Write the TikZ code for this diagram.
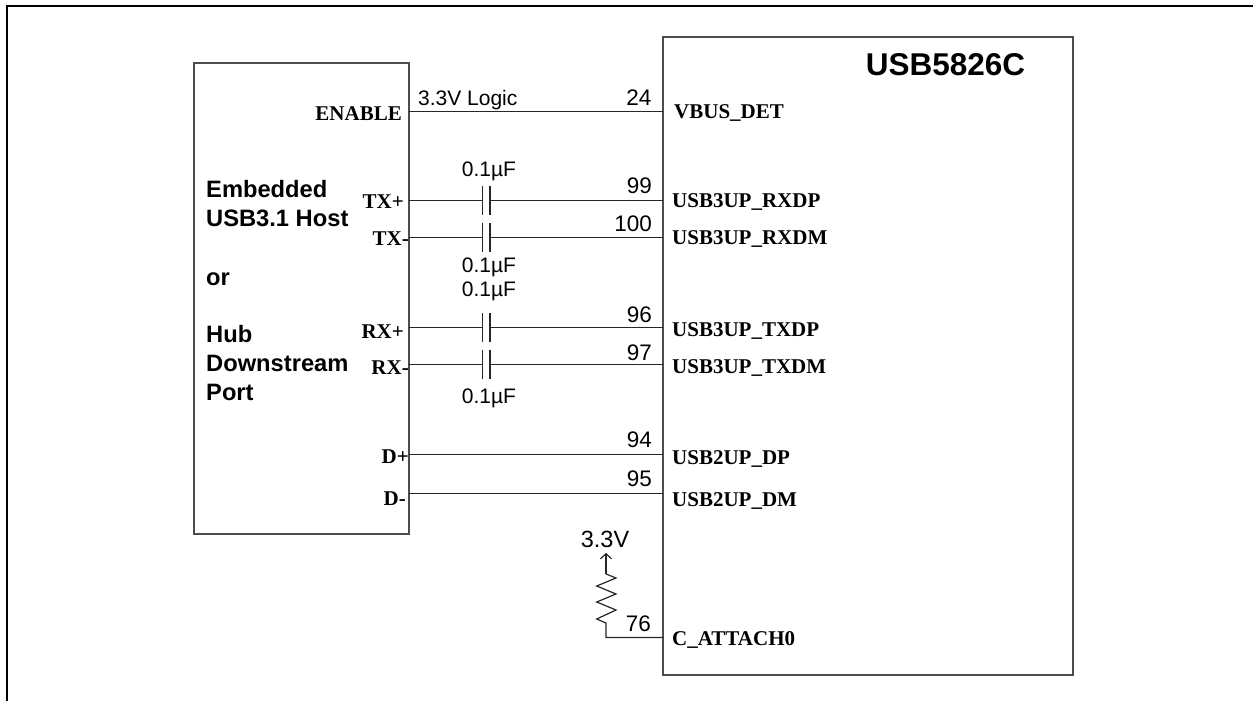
\documentclass[tikz,border=0pt]{standalone}
\usepackage{fontspec}
\setmainfont{Liberation Sans}
\newfontfamily\pinfont{Liberation Serif}
\usetikzlibrary{positioning,arrows.meta}
\tikzset{
  block/.style={draw=black!70,line width=1.4pt,inner sep=0pt},
  wire/.style={draw=black!85,line width=1.2pt},
  plate/.style={draw=black!85,line width=1.2pt},
  sansnote/.style={font=\fontsize{21}{23}\selectfont,inner sep=0pt,anchor=base},
  numlabel/.style={font=\fontsize{22.5}{24}\selectfont,inner sep=0pt,anchor=base east},
  hostlabel/.style={font=\fontsize{23.7}{25}\selectfont\bfseries,inner sep=0pt,anchor=base west},
  pinlabel/.style={font=\fontsize{21}{23}\selectfont\pinfont\bfseries,inner sep=0pt,anchor=base east},
  hublabel/.style={font=\fontsize{21}{23}\selectfont\pinfont\bfseries,inner sep=0pt,anchor=base west},
}
\begin{document}
\begin{tikzpicture}[x=1pt,y=-1pt]
        \useasboundingbox (0,0) rectangle (1253,701);
        \draw[black,line width=2.5pt] (7,701)--(7,6)--(1253,6);

        \node[block,minimum width=215pt,minimum height=471pt] (host) at (301.5,298.5) {};
        \node[block,minimum width=410pt,minimum height=638pt] (hub) at (868,356) {};
        \node[font=\fontsize{31.5}{33}\selectfont\bfseries,inner sep=0pt,anchor=base] (title) at (945.5,75) {USB5826C};

        \node[hostlabel] (h1) at (206,197) {Embedded};
        \node[hostlabel] (h2) at (206,226.7) {USB3.1 Host};
        \node[hostlabel] (h3) at (206,285) {or};
        \node[hostlabel] (h4) at (206,342) {Hub};
        \node[hostlabel] (h5) at (206,371) {Downstream};
        \node[hostlabel] (h6) at (206,400) {Port};

        % wires, left block to right block
        \coordinate (enL) at (409,111.5);
        \coordinate (enR) at (663,111.5);
        \coordinate (dpL) at (409,454.5);
        \coordinate (dpR) at (663,454.5);
        \coordinate (dmL) at (409,493.5);
        \coordinate (dmR) at (663,493.5);
        \draw[wire] (enL)--(enR);
        \draw[wire] (dpL)--(dpR);
        \draw[wire] (dmL)--(dmR);

        % ac coupled pairs
        \foreach \net/\ypos in {txp/200.5,txm/237.5,rxp/327.5,rxm/364.5}{
          \coordinate (\net L) at (409,\ypos);
          \coordinate (\net A) at (482.5,\ypos);
          \coordinate (\net B) at (490,\ypos);
          \coordinate (\net R) at (663,\ypos);
          \draw[wire] (\net L)--(\net A);
          \draw[wire] (\net B)--(\net R);
          \draw[plate] ([yshift=14.5pt]\net A)--([yshift=-14.5pt]\net A);
          \draw[plate] ([yshift=14.5pt]\net B)--([yshift=-14.5pt]\net B);
        }

        \node[sansnote,anchor=base west] (logic) at (418,105) {3.3V Logic};
        \node[sansnote] (c1) at (489,176) {0.1µF};
        \node[sansnote] (c2) at (489,272.7) {0.1µF};
        \node[sansnote] (c3) at (489,296.7) {0.1µF};
        \node[sansnote] (c4) at (489,403.3) {0.1µF};

        \node[numlabel] (n24) at (651.5,106) {24};
        \node[numlabel] (n99) at (652,193.3) {99};
        \node[numlabel] (n100) at (652,231.7) {100};
        \node[numlabel] (n96) at (652,322.7) {96};
        \node[numlabel] (n97) at (652,360) {97};
        \node[numlabel] (n94) at (652,447) {94};
        \node[numlabel] (n95) at (652,486.5) {95};
        \node[numlabel] (n76) at (651,631.7) {76};

        \node[pinlabel] (en) at (402,120.7) {ENABLE};
        \node[pinlabel] (txp) at (404,208) {TX+};
        \node[pinlabel] (txm) at (409,245) {TX-};
        \node[pinlabel] (rxp) at (404,338) {RX+};
        \node[pinlabel] (rxm) at (409,374) {RX-};
        \node[pinlabel] (dp) at (409,463) {D+};
        \node[pinlabel] (dm) at (406,505) {D-};

        \node[hublabel] (vbus) at (674,118) {VBUS\_DET};
        \node[hublabel] (txrp) at (672,207) {USB3UP\_RXDP};
        \node[hublabel] (txrm) at (672,244) {USB3UP\_RXDM};
        \node[hublabel] (rxtp) at (672,336.7) {USB3UP\_TXDP};
        \node[hublabel] (rxtm) at (672,373) {USB3UP\_TXDM};
        \node[hublabel] (usbp) at (672,464) {USB2UP\_DP};
        \node[hublabel] (usbm) at (672,506) {USB2UP\_DM};
        \node[hublabel] (cat) at (672,645) {C\_ATTACH0};

        % pull up on C_ATTACH0
        \node[sansnote,font=\fontsize{23.5}{25}\selectfont] (vcc) at (605,547) {3.3V};
        \coordinate (catR) at (663,637.5);
        \coordinate (catB) at (606,637.5);
        \coordinate (resB) at (606,623);
        \coordinate (resT) at (606,574);
        \coordinate (arrT) at (606,553);
        \draw[wire] (catR)--(catB)--(resB)--(596.7,619)--(616,610)--(596.7,602)--(616,594)--(596.7,586)--(616,578)--(resT);
        \draw[wire,-{Straight Barb[length=5pt,width=11pt]}] (resT)--(arrT);
\end{tikzpicture}
\end{document}
